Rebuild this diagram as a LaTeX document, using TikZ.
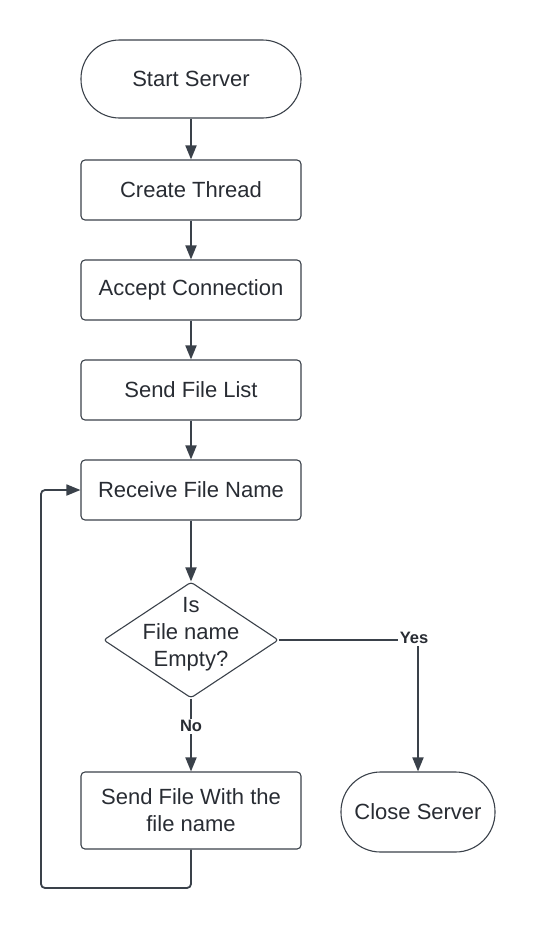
\documentclass[tikz,border=0pt]{standalone}
\usepackage{fontspec}
\setmainfont{Liberation Sans}
\usetikzlibrary{arrows.meta,shapes.geometric}
\definecolor{ln}{RGB}{58,65,74}
\definecolor{tx}{RGB}{40,44,51}
\begin{document}
\begin{tikzpicture}[x=1pt,y=-1pt,
  every node/.style={text=tx,font=\fontsize{22}{27}\selectfont},
  box/.style={draw=ln,line width=1.1pt,rounded corners=4pt,minimum width=220pt,minimum height=60pt,inner sep=0pt,align=center},
  term/.style={draw=ln,line width=1.1pt,rounded corners=38.5pt,minimum height=78pt,inner sep=0pt,align=center},
  dec/.style={draw=ln,line width=1.1pt,shape=diamond,rounded corners=3pt,minimum width=175pt,minimum height=116pt,inner sep=0pt},
  conn/.style={draw=ln,line width=1.8pt,-{Triangle[length=14pt,width=11pt]}},
  lbl/.style={fill=white,inner sep=2pt,font=\fontsize{16.5}{20}\bfseries\selectfont}]
\useasboundingbox (0,0) rectangle (541,930);
\node[term,minimum width=220pt] (start) at (191,79) {Start Server};
\node[box] (create) at (191,190) {Create Thread};
\node[box] (accept) at (191,290) {Accept Connection};
\node[box] (list) at (191,390) {Send File List};
\node[box] (recv) at (191,490) {Receive File Name};
\node[dec,label={[yshift=6pt]center:{\begin{tabular}{@{}c@{}}Is\\File name\\Empty?\end{tabular}}}] (empty) at (191,640) {};
\node[box,minimum height=77pt] (send) at (191,810.5) {Send File With the\\file name};
\node[term,minimum width=154pt,minimum height=80pt,rounded corners=39.5pt] (close) at (418,812) {Close Server};
\coordinate (loop) at (41,888);
\draw[conn] (start) -- (create);
\draw[conn] (create) -- (accept);
\draw[conn] (accept) -- (list);
\draw[conn] (list) -- (recv);
\draw[conn] (recv) -- (empty);
\draw[conn] (empty) -- node[lbl,pos=0.38] {No} (send);
\draw[conn,rounded corners=4pt] (send.south) |- (loop) |- (recv.west);
\draw[conn] (empty.east) -| node[lbl,pos=0.5,xshift=-4pt,yshift=2pt] {Yes} (close.north);
\end{tikzpicture}
\end{document}
